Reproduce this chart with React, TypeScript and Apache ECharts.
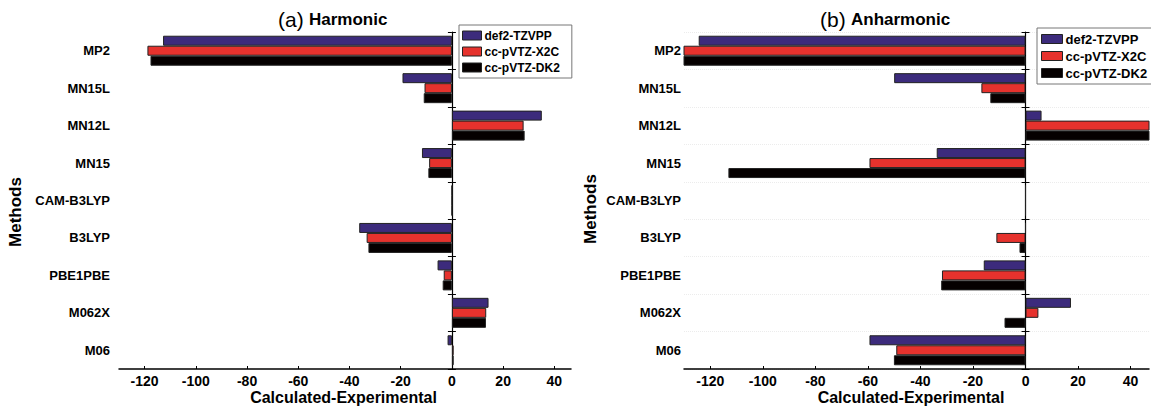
import React, { useEffect, useRef } from "react";
import * as echarts from "echarts";

const methods = ["MP2", "MN15L", "MN12L", "MN15", "CAM-B3LYP", "B3LYP", "PBE1PBE", "M062X", "M06"];
const seriesNames = ["def2-TZVPP", "cc-pVTZ-X2C", "cc-pVTZ-DK2"];
const colors = ["#3c2b7c", "#e6322d", "#050000"];

// (a) Harmonic
const harmDef2 = [-112.8, -19.3, 35.1, -11.7, 0, -36.2, -5.6, 14.3, -1.7];
const harmX2C = [-118.9, -10.7, 28.0, -8.9, 0, -33.3, -3.2, 13.4, 0.7];
const harmDK2 = [-117.7, -11.0, 28.4, -9.2, 0, -32.6, -3.6, 13.3, 0.7];

// (b) Anharmonic
const anhDef2 = [-124.4, -50.0, 6.1, -33.8, 0, 0, -15.9, 17.3, -59.4];
const anhX2C = [-135, -16.8, 50, -59.4, 0, -11.1, -31.8, 4.9, -49.2];
const anhDK2 = [-135, -13.4, 50, -113.1, 0, -2.3, -32.1, -8.0, -50.1];

const xMin = -130;
const FONT = "'Liberation Sans', Arial, Helvetica, sans-serif";

export default function App() {
  const ref = useRef<HTMLDivElement>(null);

  useEffect(() => {
    if (!ref.current) return;
    const chart = echarts.init(ref.current, undefined, { renderer: "svg" });

    const grids = [
      { left: 119, top: 32, width: 452, height: 337 },
      { left: 684, top: 32, width: 465, height: 337 },
    ];

    const xAxes = grids.map((_, i) => ({
      type: "value",
      gridIndex: i,
      min: xMin,
      max: i === 0 ? 46.5 : 47,
      splitNumber: 8,
      axisLine: { show: true, onZero: false, lineStyle: { color: "#000", width: 1.5 } },
      axisTick: { show: true, inside: true, length: 3, lineStyle: { color: "#000" } },
      axisLabel: {
        showMinLabel: false,
        showMaxLabel: false,
        color: "#000",
        fontFamily: FONT,
        fontWeight: "bold",
        fontSize: 14,
        margin: 5,
      },
      splitLine: { show: false },
    }));

    const yAxes: any[] = [];
    grids.forEach((_, i) => {
      // label axis
      yAxes.push({
        type: "category",
        gridIndex: i,
        data: methods,
        inverse: true,
        axisLine: { show: false, onZero: false },
        axisTick: { show: false },
        axisLabel: {
          color: "#000",
          fontFamily: FONT,
          fontWeight: "bold",
          fontSize: 13,
          margin: i === 0 ? 9 : 3,
        },
        splitLine: {
          show: i === 1,
          lineStyle: { color: "#ececec", type: "dotted", width: 1 },
        },
      });
      // zero line with outward ticks
      yAxes.push({
        type: "category",
        gridIndex: i,
        data: methods,
        inverse: true,
        axisLine: { show: true, onZero: true, onZeroAxisIndex: i, lineStyle: { color: "#000", width: 1.2 } },
        axisTick: { show: true, inside: false, length: 4, lineStyle: { color: "#000" } },
        axisLabel: { show: false },
        splitLine: { show: false },
      });
      // inward ticks
      yAxes.push({
        type: "category",
        gridIndex: i,
        data: methods,
        inverse: true,
        axisLine: { show: false, onZero: true, onZeroAxisIndex: i },
        axisTick: { show: true, inside: true, length: 4, lineStyle: { color: "#000" } },
        axisLabel: { show: false },
        splitLine: { show: false },
      });
    });

    const panelData = [
      [harmDef2, harmX2C, harmDK2],
      [anhDef2, anhX2C, anhDK2],
    ];

    const series: any[] = [];
    panelData.forEach((sets, p) => {
      sets.forEach((vals, k) => {
        series.push({
          type: "bar",
          name: seriesNames[k],
          xAxisIndex: p,
          yAxisIndex: p * 3,
          data: vals,
          barWidth: 10,
          barGap: "0%",
          clip: true,
          itemStyle: { color: colors[k], borderColor: "#222", borderWidth: 1 },
        });
      });
    });

    const legendCommon = {
      orient: "vertical",
      selectedMode: false,
      icon: "rect",
      backgroundColor: "#fff",
      borderColor: "#777",
      borderWidth: 1,
      borderRadius: 0,
      data: seriesNames,
      itemStyle: { borderColor: "#222", borderWidth: 1 },
    };

    const legends = [
      {
        ...legendCommon,
        left: 459,
        top: 25,
        padding: [4, 12, 4, 3],
        itemWidth: 19,
        itemHeight: 9,
        itemGap: 3,
        textStyle: { fontFamily: FONT, fontWeight: "bold", fontSize: 12, color: "#000", lineHeight: 13, padding: [0, 0, 0, -2] },
      },
      {
        ...legendCommon,
        left: 1037,
        top: 28,
        padding: [4, 8, 4, 4],
        itemWidth: 21,
        itemHeight: 9,
        itemGap: 3,
        textStyle: { fontFamily: FONT, fontWeight: "bold", fontSize: 13, color: "#000", lineHeight: 14, padding: [0, 0, 0, -2] },
      },
    ];

    const graphic: any[] = [
      { type: "text", left: 278, top: 9, style: { text: "(a)", font: `21px ${FONT}`, fill: "#000" } },
      { type: "text", left: 309, top: 11, style: { text: "Harmonic", font: `bold 17px ${FONT}`, fill: "#000" } },
      { type: "text", left: 820, top: 9, style: { text: "(b)", font: `21px ${FONT}`, fill: "#000" } },
      { type: "text", left: 851, top: 11, style: { text: "Anharmonic", font: `bold 17px ${FONT}`, fill: "#000" } },
      {
        type: "text",
        x: 15.5,
        y: 212,
        rotation: Math.PI / 2,
        style: { text: "Methods", font: `bold 17px ${FONT}`, fill: "#000", align: "center", verticalAlign: "middle" },
      },
      {
        type: "text",
        x: 590,
        y: 209,
        rotation: Math.PI / 2,
        style: { text: "Methods", font: `bold 17px ${FONT}`, fill: "#000", align: "center", verticalAlign: "middle" },
      },
      {
        type: "text",
        x: 343.5,
        y: 389,
        style: { text: "Calculated-Experimental", font: `bold 16px ${FONT}`, fill: "#000", align: "center", verticalAlign: "top" },
      },
      {
        type: "text",
        x: 911,
        y: 389,
        style: { text: "Calculated-Experimental", font: `bold 16px ${FONT}`, fill: "#000", align: "center", verticalAlign: "top" },
      },
    ];

    chart.setOption({
      animation: false,
      backgroundColor: "#fff",
      textStyle: { fontFamily: FONT },
      grid: grids,
      xAxis: xAxes,
      yAxis: yAxes,
      legend: legends,
      series,
      graphic,
    });

    return () => chart.dispose();
  }, []);

  return (
    <div
      ref={ref}
      style={{ position: "fixed", left: 0, top: 0, width: 1151, height: 408, background: "#fff" }}
    />
  );
}
